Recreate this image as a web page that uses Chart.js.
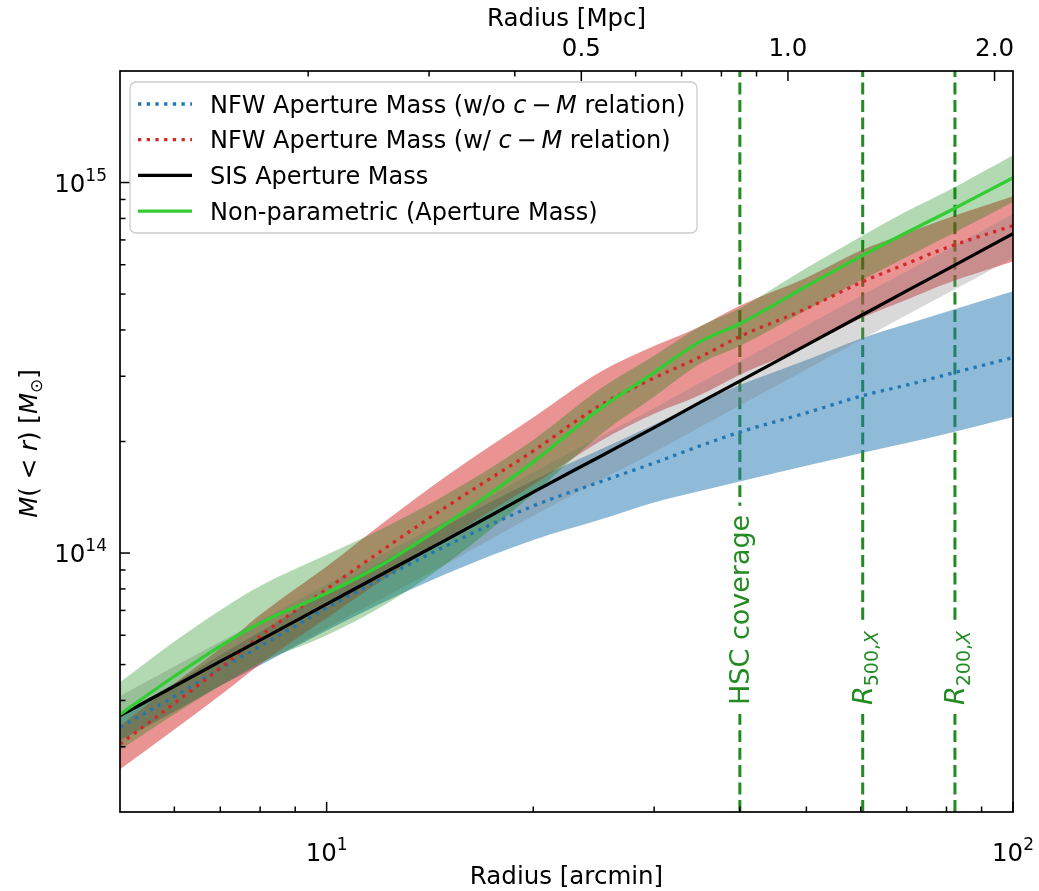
<!DOCTYPE html>
<html>
<head>
<meta charset="utf-8">
<script src="https://cdn.jsdelivr.net/npm/chart.js@4.4.0/dist/chart.umd.min.js"></script>
<style>
  html, body { margin: 0; padding: 0; background: #fff; }
</style>
</head>
<body>
<canvas id="massChart" width="1039" height="891"></canvas>
<script>
// radius grid (arcmin)
const radiusArcmin = [5, 6, 7, 8, 10, 12, 15, 20, 25, 30, 35, 40, 50, 60, 70, 80, 100];

// NFW aperture mass, free concentration
const nfwFree   = [3.39e13, 4.10e13, 4.87e13, 5.60e13, 7.10e13, 8.50e13, 1.05e14, 1.34e14, 1.555e14, 1.75e14, 1.946e14, 2.12e14, 2.39e14, 2.65e14, 2.84e14, 3.03e14, 3.37e14];
const nfwFreeHi = [3.66e13, 4.45e13, 5.31e13, 6.13e13, 7.81e13, 9.44e13, 1.19e14, 1.57e14, 1.90e14, 2.22e14, 2.55e14, 2.84e14, 3.32e14, 3.79e14, 4.15e14, 4.48e14, 5.09e14];
const nfwFreeLo = [3.12e13, 3.73e13, 4.38e13, 4.98e13, 6.18e13, 7.31e13, 8.82e13, 1.085e14, 1.23e14, 1.37e14, 1.47e14, 1.56e14, 1.72e14, 1.86e14, 1.98e14, 2.10e14, 2.33e14];

// NFW aperture mass with c-M relation
const nfwCM   = [3.05e13, 3.93e13, 4.89e13, 5.97e13, 7.99e13, 1.012e14, 1.34e14, 1.886e14, 2.50e14, 2.97e14, 3.38e14, 3.84e14, 4.57e14, 5.37e14, 6.04e14, 6.67e14, 7.65e14];
const nfwCMHi = [3.42e13, 4.44e13, 5.53e13, 6.81e13, 9.19e13, 1.194e14, 1.621e14, 2.32e14, 3.075e14, 3.62e14, 4.09e14, 4.65e14, 5.53e14, 6.55e14, 7.31e14, 8.00e14, 9.18e14];
const nfwCMLo = [2.61e13, 3.34e13, 4.13e13, 5.01e13, 6.67e13, 8.40e13, 1.099e14, 1.528e14, 2.00e14, 2.376e14, 2.67e14, 3.03e14, 3.61e14, 4.30e14, 4.83e14, 5.34e14, 6.12e14];

// SIS aperture mass
const sisMass = [3.64e13, 4.37e13, 5.10e13, 5.82e13, 7.28e13, 8.74e13, 1.09e14, 1.46e14, 1.82e14, 2.18e14, 2.55e14, 2.91e14, 3.64e14, 4.37e14, 5.10e14, 5.82e14, 7.28e14];
const sisHi   = [4.11e13, 4.94e13, 5.76e13, 6.58e13, 8.23e13, 9.88e13, 1.23e14, 1.65e14, 2.06e14, 2.46e14, 2.88e14, 3.29e14, 4.11e14, 4.94e14, 5.76e14, 6.58e14, 8.23e14];
const sisLo   = [3.13e13, 3.76e13, 4.39e13, 5.01e13, 6.26e13, 7.52e13, 9.37e13, 1.26e14, 1.57e14, 1.87e14, 2.19e14, 2.50e14, 3.13e14, 3.76e14, 4.39e14, 5.01e14, 6.26e14];

// non-parametric aperture mass
const nonParam   = [3.67e13, 4.65e13, 5.61e13, 6.47e13, 7.79e13, 9.28e13, 1.205e14, 1.76e14, 2.45e14, 3.07e14, 3.72e14, 4.16e14, 5.25e14, 6.32e14, 7.33e14, 8.30e14, 1.03e15];
const nonParamHi = [4.48e13, 5.77e13, 7.01e13, 8.15e13, 9.89e13, 1.16e14, 1.446e14, 2.02e14, 2.77e14, 3.41e14, 4.09e14, 4.58e14, 5.88e14, 7.14e14, 8.36e14, 9.46e14, 1.185e15];
const nonParamLo = [2.94e13, 3.67e13, 4.38e13, 5.05e13, 6.00e13, 7.15e13, 9.40e13, 1.443e14, 2.08e14, 2.64e14, 3.24e14, 3.62e14, 4.52e14, 5.44e14, 6.30e14, 7.14e14, 8.86e14];

// reference radii (arcmin): HSC coverage, R500, R200
const markerRadius = [40.0, 60.4, 82.3];

// ticks
const xMajorTicks = [10, 100];
const xMajorLabels = ['1', '2'];
const xMinorTicks = [6, 7, 8, 9, 20, 30, 40, 50, 60, 70, 80, 90];
const yMajorTicks = [1e14, 1e15];
const yMajorLabels = ['14', '15'];
const yMinorTicks = [3e13, 4e13, 5e13, 6e13, 7e13, 8e13, 9e13, 2e14, 3e14, 4e14, 5e14, 6e14, 7e14, 8e14, 9e14];
const mpcMajorTicks = [0.5, 1.0, 2.0];
const mpcMajorLabels = ['0.5', '1.0', '2.0'];
const mpcMinorTicks = [0.2, 0.3, 0.4, 0.6, 0.7, 0.8, 0.9];
const ARCMIN_PER_MPC = 47;

const F = 'DejaVu Sans';
const FS = 24.5;
const pts = ys => radiusArcmin.map((x, i) => ({ x: x, y: ys[i] }));

function band(hi, lo, color, order) {
  return [
    { data: pts(hi), borderWidth: 0, pointRadius: 0, fill: '+1', backgroundColor: color, order: order },
    { data: pts(lo), borderWidth: 0, pointRadius: 0, fill: false, order: order }
  ];
}
function vline(xv) {
  return { data: [{ x: xv, y: 2e13 }, { x: xv, y: 2e15 }], borderColor: '#228B22', borderWidth: 3,
           borderDash: [12, 5.5], pointRadius: 0, fill: false, order: 20 };
}

const datasets = [].concat(
  markerRadius.map(vline),
  band(nfwFreeHi, nfwFreeLo, 'rgba(31,119,180,0.5)', 15),
  band(nfwCMHi, nfwCMLo, 'rgba(214,39,40,0.5)', 14),
  band(sisHi, sisLo, 'rgba(128,128,128,0.3)', 13),
  band(nonParamHi, nonParamLo, 'rgba(0,128,0,0.3)', 12),
  [
    { data: pts(nfwFree), borderColor: '#1f77b4', borderWidth: 3.3, borderDash: [3.3, 5.4], pointRadius: 0, fill: false, order: 4 },
    { data: pts(nfwCM), borderColor: '#d62728', borderWidth: 3.3, borderDash: [3.3, 5.4], pointRadius: 0, fill: false, order: 3 },
    { data: pts(sisMass), borderColor: '#000000', borderWidth: 3.3, pointRadius: 0, fill: false, order: 2 },
    { data: pts(nonParam), borderColor: '#32cd32', borderWidth: 3.3, pointRadius: 0, fill: false, order: 1 }
  ]
);

function runsWidth(ctx, runs) {
  let w = 0;
  for (const r of runs) { ctx.font = r.font; w += ctx.measureText(r.t).width; }
  return w;
}
function drawRuns(ctx, runs, x, y, align) {
  const w = runsWidth(ctx, runs);
  let cx = align === 'center' ? x - w / 2 : align === 'right' ? x - w : x;
  ctx.textAlign = 'left';
  ctx.textBaseline = 'alphabetic';
  for (const r of runs) {
    ctx.font = r.font;
    ctx.fillText(r.t, cx, y + (r.dy || 0));
    cx += ctx.measureText(r.t).width;
  }
  return w;
}
function tickLine(ctx, x1, y1, x2, y2) {
  ctx.beginPath(); ctx.moveTo(x1, y1); ctx.lineTo(x2, y2); ctx.stroke();
}

const decor = {
  id: 'decor',
  afterDatasetsDraw(chart) {
    const ctx = chart.ctx, a = chart.chartArea;
    const xs = chart.scales.x, ys = chart.scales.y, xt = chart.scales.xTop;
    ctx.save();

    // labels on reference lines
    const vLabels = [
      [{ t: 'HSC coverage', font: '27px ' + F }],
      [{ t: 'R', font: 'italic 27px ' + F }, { t: '500,', font: '19px ' + F, dy: 6 }, { t: 'X', font: 'italic 19px ' + F, dy: 6 }],
      [{ t: 'R', font: 'italic 27px ' + F }, { t: '200,', font: '19px ' + F, dy: 6 }, { t: 'X', font: 'italic 19px ' + F, dy: 6 }]
    ];
    markerRadius.forEach((r, i) => {
      const px = xs.getPixelForValue(r);
      const w = runsWidth(ctx, vLabels[i]);
      ctx.save();
      ctx.translate(px, 705);
      ctx.rotate(-Math.PI / 2);
      ctx.fillStyle = '#ffffff';
      ctx.fillRect(-9, -15, w + 18, 32);
      ctx.fillStyle = '#228B22';
      drawRuns(ctx, vLabels[i], 0, 9.5, 'left');
      ctx.restore();
    });

    // frame
    ctx.strokeStyle = '#000';
    ctx.lineWidth = 1.7;
    ctx.strokeRect(a.left, a.top, a.right - a.left, a.bottom - a.top);

    // ticks (inward)
    ctx.lineWidth = 1.5;
    xMajorTicks.forEach(v => { const p = xs.getPixelForValue(v); tickLine(ctx, p, a.bottom, p, a.bottom - 10); });
    xMinorTicks.forEach(v => { const p = xs.getPixelForValue(v); tickLine(ctx, p, a.bottom, p, a.bottom - 5.5); });
    yMajorTicks.forEach(v => { const p = ys.getPixelForValue(v); tickLine(ctx, a.left, p, a.left + 10, p); });
    yMinorTicks.forEach(v => { const p = ys.getPixelForValue(v); tickLine(ctx, a.left, p, a.left + 5.5, p); });
    mpcMajorTicks.forEach(v => { const p = xt.getPixelForValue(v); tickLine(ctx, p, a.top, p, a.top + 10); });
    mpcMinorTicks.forEach(v => { const p = xt.getPixelForValue(v); tickLine(ctx, p, a.top, p, a.top + 5.5); });

    // tick labels
    ctx.fillStyle = '#000';
    const tf = FS + 'px ' + F, sf = '17px ' + F;
    xMajorTicks.forEach((v, i) => {
      const p = xs.getPixelForValue(v);
      drawRuns(ctx, [{ t: '10', font: tf }, { t: xMajorLabels[i], font: sf, dy: -11 }], p, 861, 'center');
    });
    yMajorTicks.forEach((v, i) => {
      const p = ys.getPixelForValue(v);
      drawRuns(ctx, [{ t: '10', font: tf }, { t: yMajorLabels[i], font: sf, dy: -11 }], a.left - 13, p + 9, 'right');
    });
    mpcMajorTicks.forEach((v, i) => {
      const p = xt.getPixelForValue(v);
      drawRuns(ctx, [{ t: mpcMajorLabels[i], font: tf }], p, a.top - 15, 'center');
    });

    // axis titles
    const midX = (a.left + a.right) / 2;
    drawRuns(ctx, [{ t: 'Radius [arcmin]', font: tf }], midX, 884, 'center');
    drawRuns(ctx, [{ t: 'Radius [Mpc]', font: tf }], midX, 26, 'center');
    ctx.save();
    ctx.translate(37, (a.top + a.bottom) / 2 + 2);
    ctx.rotate(-Math.PI / 2);
    drawRuns(ctx, [
      { t: 'M', font: 'italic ' + tf }, { t: '( < ', font: tf }, { t: 'r', font: 'italic ' + tf },
      { t: ') [', font: tf }, { t: 'M', font: 'italic ' + tf }, { t: '\u2299', font: sf, dy: 5 },
      { t: ']', font: tf }
    ], 0, 0, 'center');
    ctx.restore();

    // legend
    const L = { x: 130, y: 82, w: 567, h: 151 };
    ctx.beginPath();
    ctx.roundRect(L.x, L.y, L.w, L.h, 6);
    ctx.fillStyle = 'rgba(255,255,255,0.8)';
    ctx.fill();
    ctx.strokeStyle = '#cccccc';
    ctx.lineWidth = 1.3;
    ctx.stroke();
    const lf = '24px ' + F, lfi = 'italic 24px ' + F;
    const entries = [
      { color: '#1f77b4', dash: [3.3, 5.4], runs: [{ t: 'NFW Aperture Mass (w/o ', font: lf }, { t: 'c', font: lfi }, { t: '\u2009\u2212\u2009', font: lf }, { t: 'M', font: lfi }, { t: ' relation)', font: lf }] },
      { color: '#d62728', dash: [3.3, 5.4], runs: [{ t: 'NFW Aperture Mass (w/ ', font: lf }, { t: 'c', font: lfi }, { t: '\u2009\u2212\u2009', font: lf }, { t: 'M', font: lfi }, { t: ' relation)', font: lf }] },
      { color: '#000000', dash: [], runs: [{ t: 'SIS Aperture Mass', font: lf }] },
      { color: '#32cd32', dash: [], runs: [{ t: 'Non-parametric (Aperture Mass)', font: lf }] }
    ];
    entries.forEach((e, i) => {
      const yy = 104 + i * 35.7;
      ctx.strokeStyle = e.color;
      ctx.lineWidth = 3.3;
      ctx.setLineDash(e.dash);
      tickLine(ctx, 138, yy, 192, yy);
      ctx.setLineDash([]);
      ctx.fillStyle = '#000';
      drawRuns(ctx, e.runs, 210, yy + 8.5, 'left');
    });

    ctx.restore();
  }
};

const hidden = { ticks: { display: false }, grid: { display: false }, border: { display: false } };

new Chart(document.getElementById('massChart'), {
  type: 'line',
  data: { datasets: datasets },
  options: {
    responsive: false,
    animation: false,
    devicePixelRatio: 1,
    layout: { padding: { left: 0, right: 26, top: 0, bottom: 0 } },
    elements: { line: { cubicInterpolationMode: 'monotone' }, point: { radius: 0 } },
    plugins: { legend: { display: false }, tooltip: { enabled: false } },
    scales: {
      x: Object.assign({ type: 'logarithmic', position: 'bottom', min: 5, max: 100,
        afterFit: s => { s.height = 79; } }, hidden),
      xTop: Object.assign({ type: 'logarithmic', position: 'top', min: 5 / ARCMIN_PER_MPC, max: 100 / ARCMIN_PER_MPC,
        afterFit: s => { s.height = 71; } }, hidden),
      y: Object.assign({ type: 'logarithmic', min: 2e13, max: 2e15,
        afterFit: s => { s.width = 120; } }, hidden)
    }
  },
  plugins: [decor]
});
</script>
</body>
</html>
